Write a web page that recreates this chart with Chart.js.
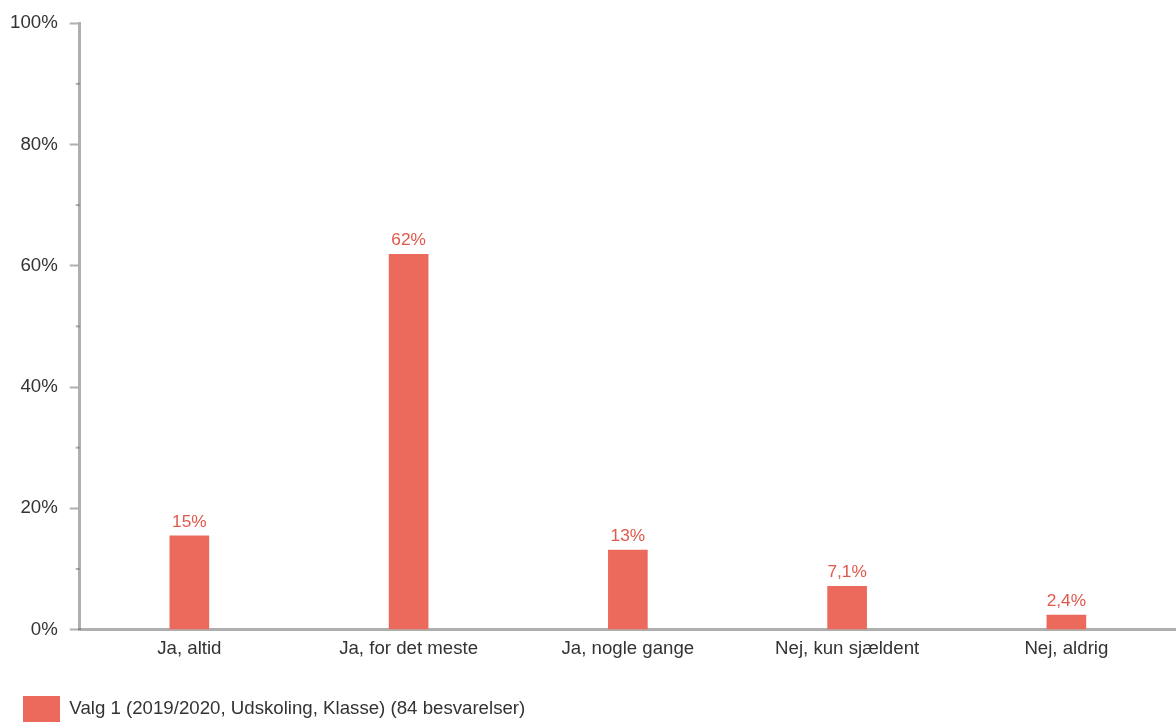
<!DOCTYPE html>
<html>
<head>
<meta charset="utf-8">
<script src="https://cdn.jsdelivr.net/npm/chart.js@4"></script>
<style>
  html, body { margin: 0; padding: 0; background: #fff; }
  #wrap { width: 1176px; height: 722px; }
</style>
</head>
<body>
<div id="wrap"><canvas id="chart" width="1176" height="722"></canvas></div>
<script>
const categories = ["Ja, altid", "Ja, for det meste", "Ja, nogle gange", "Nej, kun sjældent", "Nej, aldrig"];
const values = [15.48, 61.90, 13.10, 7.14, 2.38];
const valueLabels = ["15%", "62%", "13%", "7,1%", "2,4%"];
const seriesName = "Valg 1 (2019/2020, Udskoling, Klasse) (84 besvarelser)";

const barColor = "#eb6a5c";
const axisColor = "rgba(110, 110, 110, 0.55)";
const textColor = "#333333";
const fontFamily = "'Liberation Sans', Arial, sans-serif";

// etiketter over søjlerne
const valueLabelPlugin = {
  id: "valueLabels",
  afterDatasetsDraw(chart) {
    const ctx = chart.ctx;
    const meta = chart.getDatasetMeta(0);
    ctx.save();
    ctx.font = "17.3px " + fontFamily;
    ctx.fillStyle = "#e0584b";
    ctx.textAlign = "center";
    ctx.textBaseline = "bottom";
    meta.data.forEach((bar, i) => {
      ctx.fillText(valueLabels[i], bar.x, bar.y - 5);
    });
    ctx.restore();
  }
};

// små mellem-streger på y-aksen
const minorTickPlugin = {
  id: "minorTicks",
  afterDraw(chart) {
    const y = chart.scales.y;
    const ctx = chart.ctx;
    ctx.save();
    ctx.strokeStyle = axisColor;
    ctx.lineWidth = 2;
    y.ticks.forEach(t => {
      if (t.value % 20 !== 0) {
        const py = y.getPixelForValue(t.value);
        ctx.beginPath();
        ctx.moveTo(y.right - 4, py);
        ctx.lineTo(y.right, py);
        ctx.stroke();
      }
    });
    ctx.restore();
  }
};

// skub forklaringen helt ned i bunden
const legendShiftPlugin = {
  id: "legendShift",
  afterLayout(chart) {
    chart.legend.top += 13;
    chart.legend.bottom += 13;
    chart.legend.left += 2;
  }
};

new Chart(document.getElementById("chart").getContext("2d"), {
  type: "bar",
  data: {
    labels: categories,
    datasets: [{
      label: seriesName,
      data: values,
      backgroundColor: barColor,
      borderWidth: 0,
      barThickness: 39
    }]
  },
  options: {
    responsive: false,
    animation: false,
    layout: { padding: { top: 5, left: -2, right: 0, bottom: 3 } },
    plugins: {
      tooltip: { enabled: false },
      legend: {
        position: "bottom",
        align: "start",
        labels: {
          boxWidth: 37,
          boxHeight: 26,
          padding: 23,
          color: textColor,
          font: { size: 18.67, family: fontFamily }
        }
      }
    },
    scales: {
      x: {
        z: 1,
        grid: { display: false },
        border: { display: true, color: axisColor, width: 3 },
        ticks: {
          color: textColor,
          padding: 0,
          font: { size: 18.67, family: fontFamily }
        }
      },
      y: {
        z: 1,
        min: 0,
        max: 100,
        grid: {
          drawOnChartArea: false,
          drawTicks: true,
          tickLength: 10,
          tickWidth: 2,
          tickColor: ctx => (ctx.tick && ctx.tick.value % 20 === 0) ? axisColor : "rgba(0,0,0,0)"
        },
        border: { display: true, color: axisColor, width: 3 },
        ticks: {
          stepSize: 10,
          padding: 12,
          color: textColor,
          font: { size: 18.67, family: fontFamily },
          callback: v => (v % 20 === 0) ? v + "%" : ""
        }
      }
    }
  },
  plugins: [valueLabelPlugin, minorTickPlugin, legendShiftPlugin]
});
</script>
</body>
</html>
